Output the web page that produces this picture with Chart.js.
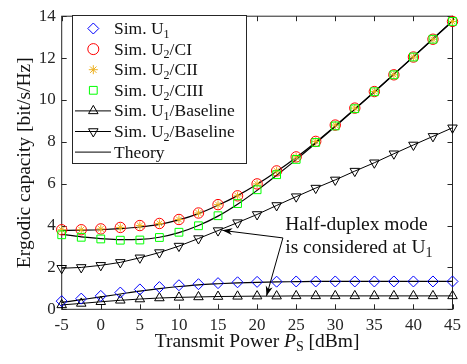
<!DOCTYPE html>
<html lang="en">
<head>
<meta charset="UTF-8">
<title>Ergodic capacity vs transmit power</title>
<script src="https://cdn.jsdelivr.net/npm/chart.js"></script>
<style>
  html, body { margin: 0; padding: 0; background: #fff; }
</style>
</head>
<body>
<canvas id="myChart" width="467" height="364"></canvas>
<script>
// transmit power P_S [dBm]
const power = [-5, -2.5, 0, 2.5, 5, 7.5, 10, 12.5, 15, 17.5, 20, 22.5, 25, 27.5, 30, 32.5, 35, 37.5, 40, 42.5, 45];

// simulated points
const simU1     = [0.39, 0.51, 0.64, 0.80, 0.95, 1.06, 1.15, 1.20, 1.25, 1.29, 1.31, 1.32, 1.33, 1.33, 1.33, 1.33, 1.33, 1.33, 1.33, 1.33, 1.33];
const simU2CI   = [3.80, 3.80, 3.84, 3.91, 4.00, 4.10, 4.29, 4.60, 5.00, 5.42, 5.99, 6.61, 7.28, 8.02, 8.80, 9.61, 10.40, 11.20, 12.05, 12.90, 13.75];
const simU2CII  = [3.80, 3.80, 3.84, 3.91, 4.00, 4.10, 4.29, 4.60, 5.00, 5.42, 5.99, 6.61, 7.28, 8.02, 8.80, 9.61, 10.40, 11.20, 12.05, 12.90, 13.75];
const simU2CIII = [3.56, 3.44, 3.36, 3.30, 3.31, 3.43, 3.68, 3.99, 4.47, 5.05, 5.71, 6.43, 7.16, 7.97, 8.76, 9.58, 10.39, 11.20, 12.05, 12.90, 13.75];
const baseU1    = [0.21, 0.28, 0.36, 0.43, 0.49, 0.54, 0.57, 0.59, 0.61, 0.62, 0.63, 0.63, 0.64, 0.64, 0.64, 0.64, 0.64, 0.64, 0.64, 0.64, 0.64];
const baseU2    = [1.96, 2.00, 2.10, 2.24, 2.46, 2.71, 3.02, 3.38, 3.76, 4.14, 4.53, 4.96, 5.38, 5.79, 6.18, 6.60, 7.00, 7.43, 7.85, 8.26, 8.67];

// theory curves
const theoryU1   = [0.33, 0.46, 0.59, 0.73, 0.87, 0.99, 1.09, 1.17, 1.22, 1.26, 1.29, 1.31, 1.32, 1.33, 1.33, 1.33, 1.33, 1.33, 1.33, 1.33, 1.33];
const theoryCI   = [3.77, 3.78, 3.80, 3.85, 3.93, 4.06, 4.27, 4.57, 4.97, 5.43, 5.97, 6.58, 7.25, 7.98, 8.76, 9.57, 10.39, 11.23, 12.07, 12.92, 13.77];
const theoryCIII = [3.58, 3.46, 3.38, 3.33, 3.34, 3.44, 3.66, 4.00, 4.45, 5.02, 5.68, 6.40, 7.15, 7.93, 8.73, 9.55, 10.38, 11.22, 12.06, 12.91, 13.76];

const xTicks = [-5, 0, 5, 10, 15, 20, 25, 30, 35, 40, 45];
const yTicks = [0, 2, 4, 6, 8, 10, 12, 14];

const FAMILY = '"Liberation Serif", "Times New Roman", serif';
const TXT = '#262626';

function pts(ys) { return ys.map((y, i) => ({x: power[i], y: y})); }

// tiny rich text: "_X" = subscript, "*P*" = italic
function richParts(str) {
  const out = [];
  const re = /(\*[^*]+\*|_\w)/g;
  let last = 0, m;
  while ((m = re.exec(str))) {
    if (m.index > last) out.push({t: str.slice(last, m.index), s: 'n'});
    if (m[0][0] === '*') out.push({t: m[0].slice(1, -1), s: 'i'});
    else out.push({t: m[0].slice(1), s: 'sub'});
    last = re.lastIndex;
  }
  if (last < str.length) out.push({t: str.slice(last), s: 'n'});
  return out;
}
function fontFor(p, size) {
  if (p.s === 'i') return 'italic ' + size + 'px ' + FAMILY;
  if (p.s === 'sub') return Math.round(size * 0.7) + 'px ' + FAMILY;
  return size + 'px ' + FAMILY;
}
function drawRich(ctx, str, x, y, size, align) {
  const parts = richParts(str);
  let w = 0;
  parts.forEach(p => { ctx.font = fontFor(p, size); w += ctx.measureText(p.t).width; });
  let cx = align === 'center' ? x - w / 2 : (align === 'right' ? x - w : x);
  ctx.textAlign = 'left';
  ctx.textBaseline = 'alphabetic';
  parts.forEach(p => {
    ctx.font = fontFor(p, size);
    ctx.fillText(p.t, cx, y + (p.s === 'sub' ? size * 0.22 : 0));
    cx += ctx.measureText(p.t).width;
  });
}

function marker(ctx, style, x, y) {
  if (Chart.helpers && Chart.helpers.drawPoint) {
    ctx.save();
    ctx.strokeStyle = style.color;
    ctx.fillStyle = style.fill || 'rgba(0,0,0,0)';
    ctx.lineWidth = 1;
    Chart.helpers.drawPoint(ctx, {pointStyle: style.pointStyle, radius: style.radius, rotation: style.rotation || 0, borderWidth: 1}, x, y);
    ctx.restore();
  }
}

// legend entries (one per legend row)
const legendRows = [
  {label: 'Sim. U_1', pointStyle: 'rectRot', radius: 5.5, color: '#0000ff'},
  {label: 'Sim. U_2/CI', pointStyle: 'circle', radius: 5.5, color: '#ff0000'},
  {label: 'Sim. U_2/CII', pointStyle: 'star', radius: 4.5, color: '#edb120'},
  {label: 'Sim. U_2/CIII', pointStyle: 'rect', radius: 5.5, color: '#00ff00'},
  {label: 'Sim. U_1/Baseline', pointStyle: 'triangle', radius: 5.5, color: '#000', line: true},
  {label: 'Sim. U_2/Baseline', pointStyle: 'triangle', rotation: 180, radius: 5.5, color: '#000', line: true},
  {label: 'Theory', color: '#000', line: true}
];

const framePlugin = {
  id: 'frame',
  beforeDatasetsDraw(chart) {
    const {ctx, chartArea: a, scales} = chart;
    ctx.save();
    ctx.strokeStyle = TXT;
    ctx.lineWidth = 1;
    ctx.strokeRect(a.left, a.top, a.right - a.left, a.bottom - a.top);
    ctx.beginPath();
    xTicks.forEach(v => {
      const px = Math.round(scales.x.getPixelForValue(v)) + 0.5;
      ctx.moveTo(px, a.bottom); ctx.lineTo(px, a.bottom - 5);
      ctx.moveTo(px, a.top); ctx.lineTo(px, a.top + 5);
    });
    yTicks.forEach(v => {
      const py = Math.round(scales.y.getPixelForValue(v)) + 0.5;
      ctx.moveTo(a.left, py); ctx.lineTo(a.left + 5, py);
      ctx.moveTo(a.right, py); ctx.lineTo(a.right - 5, py);
    });
    ctx.stroke();
    ctx.restore();
  },
  afterDatasetsDraw(chart) {
    const {ctx, chartArea: a, scales} = chart;
    const sx = scales.x, sy = scales.y;
    ctx.save();
    ctx.fillStyle = '#111';
    // axis titles
    drawRich(ctx, 'Transmit Power *P*_S [dBm]', (a.left + a.right) / 2, 347, 19.5, 'center');
    ctx.save();
    ctx.translate(30, (a.top + a.bottom) / 2);
    ctx.rotate(-Math.PI / 2);
    drawRich(ctx, 'Ergodic capacity [bit/s/Hz]', 0, 0, 19.5, 'center');
    ctx.restore();

    // annotation
    const tx = sx.getPixelForValue(23.6);
    drawRich(ctx, 'Half-duplex mode', tx, 230, 19.5, 'left');
    drawRich(ctx, 'is considered at U_1', tx, 253, 19.5, 'left');
    const start = {x: sx.getPixelForValue(23.3), y: sy.getPixelForValue(3.41)};
    const tips = [
      {x: sx.getPixelForValue(15.55), y: sy.getPixelForValue(3.77)},
      {x: sx.getPixelForValue(21.2), y: sy.getPixelForValue(0.63)}
    ];
    ctx.strokeStyle = '#000';
    ctx.fillStyle = '#000';
    ctx.lineWidth = 1;
    tips.forEach(t => {
      ctx.beginPath();
      ctx.moveTo(start.x, start.y); ctx.lineTo(t.x, t.y);
      ctx.stroke();
      const ang = Math.atan2(t.y - start.y, t.x - start.x);
      const L = 10, W = 3.5;
      ctx.beginPath();
      ctx.moveTo(t.x, t.y);
      ctx.lineTo(t.x - L * Math.cos(ang) + W * Math.sin(ang), t.y - L * Math.sin(ang) - W * Math.cos(ang));
      ctx.lineTo(t.x - L * 0.7 * Math.cos(ang), t.y - L * 0.7 * Math.sin(ang));
      ctx.lineTo(t.x - L * Math.cos(ang) - W * Math.sin(ang), t.y - L * Math.sin(ang) + W * Math.cos(ang));
      ctx.closePath();
      ctx.fill();
    });
    ctx.restore();
  },
  afterDraw(chart) {
    const {ctx} = chart;
    const box = {x: 72.5, y: 15.5, w: 174, h: 148};
    ctx.save();
    ctx.fillStyle = '#fff';
    ctx.fillRect(box.x, box.y, box.w, box.h);
    ctx.strokeStyle = TXT;
    ctx.lineWidth = 1;
    ctx.strokeRect(box.x, box.y, box.w, box.h);
    legendRows.forEach((r, i) => {
      const cy = 28.5 + i * 20.6;
      if (r.line) {
        ctx.strokeStyle = r.color;
        ctx.lineWidth = 1;
        ctx.beginPath();
        ctx.moveTo(75, cy); ctx.lineTo(111, cy);
        ctx.stroke();
      }
      if (r.pointStyle) marker(ctx, r, 93.3, cy);
      ctx.fillStyle = '#111';
      drawRich(ctx, r.label, 114, cy + 5.5, 17.5, 'left');
    });
    ctx.restore();
  }
};

function simSet(label, data, style, color, radius, extra) {
  return Object.assign({
    label: label, data: pts(data), showLine: false,
    pointStyle: style, pointRadius: radius, pointHoverRadius: radius,
    pointBorderColor: color, pointBackgroundColor: 'rgba(0,0,0,0)',
    pointBorderWidth: 1, borderColor: color, clip: false
  }, extra || {});
}
function lineSet(label, data, extra) {
  return Object.assign({
    label: label, data: pts(data), showLine: true, borderColor: '#000', borderWidth: 1.2,
    pointRadius: 0, cubicInterpolationMode: 'monotone', clip: false, fill: false
  }, extra || {});
}

const ctx = document.getElementById('myChart').getContext('2d');
const chart = new Chart(ctx, {
  type: 'scatter',
  data: {
    datasets: [
      simSet('Sim. U1', simU1, 'rectRot', '#0000ff', 5.5, {order: 1}),
      simSet('Sim. U2/CIII', simU2CIII, 'rect', '#00ff00', 5.5, {order: 2}),
      simSet('Sim. U2/CII', simU2CII, 'star', '#edb120', 4.2, {order: 3}),
      simSet('Sim. U2/CI', simU2CI, 'circle', '#ff0000', 5.2, {order: 4}),
      lineSet('Sim. U1/Baseline', baseU1, {pointStyle: 'triangle', pointRadius: 5.5, pointBorderColor: '#000', pointBackgroundColor: 'rgba(0,0,0,0)', pointBorderWidth: 1, borderWidth: 1, cubicInterpolationMode: 'default', tension: 0, order: 5}),
      lineSet('Sim. U2/Baseline', baseU2, {pointStyle: 'triangle', pointRotation: 180, pointRadius: 5.5, pointBorderColor: '#000', pointBackgroundColor: 'rgba(0,0,0,0)', pointBorderWidth: 1, borderWidth: 1, cubicInterpolationMode: 'default', tension: 0, order: 6}),
      lineSet('Theory', theoryCI, {order: 7}),
      lineSet('Theory (CIII)', theoryCIII, {order: 8}),
      lineSet('Theory (U1)', theoryU1, {order: 9})
    ]
  },
  options: {
    responsive: false,
    animation: false,
    layout: {padding: {top: 11.5, right: 13, left: 0, bottom: 0}},
    plugins: {legend: {display: false}, tooltip: {enabled: false}},
    scales: {
      x: {
        type: 'linear', min: -5, max: 45,
        afterBuildTicks: s => { s.ticks = xTicks.map(v => ({value: v})); },
        afterFit: s => { s.height = 54.7; },
        grid: {display: false, drawTicks: false},
        border: {display: false},
        ticks: {padding: 6, color: TXT, font: {family: FAMILY, size: 17}}
      },
      y: {
        type: 'linear', min: 0, max: 14,
        afterBuildTicks: s => { s.ticks = yTicks.map(v => ({value: v})); },
        afterFit: s => { s.width = 61.7; },
        grid: {display: false, drawTicks: false},
        border: {display: false},
        ticks: {padding: 6, color: TXT, font: {family: FAMILY, size: 17}}
      }
    }
  },
  plugins: [framePlugin]
});
</script>
</body>
</html>
